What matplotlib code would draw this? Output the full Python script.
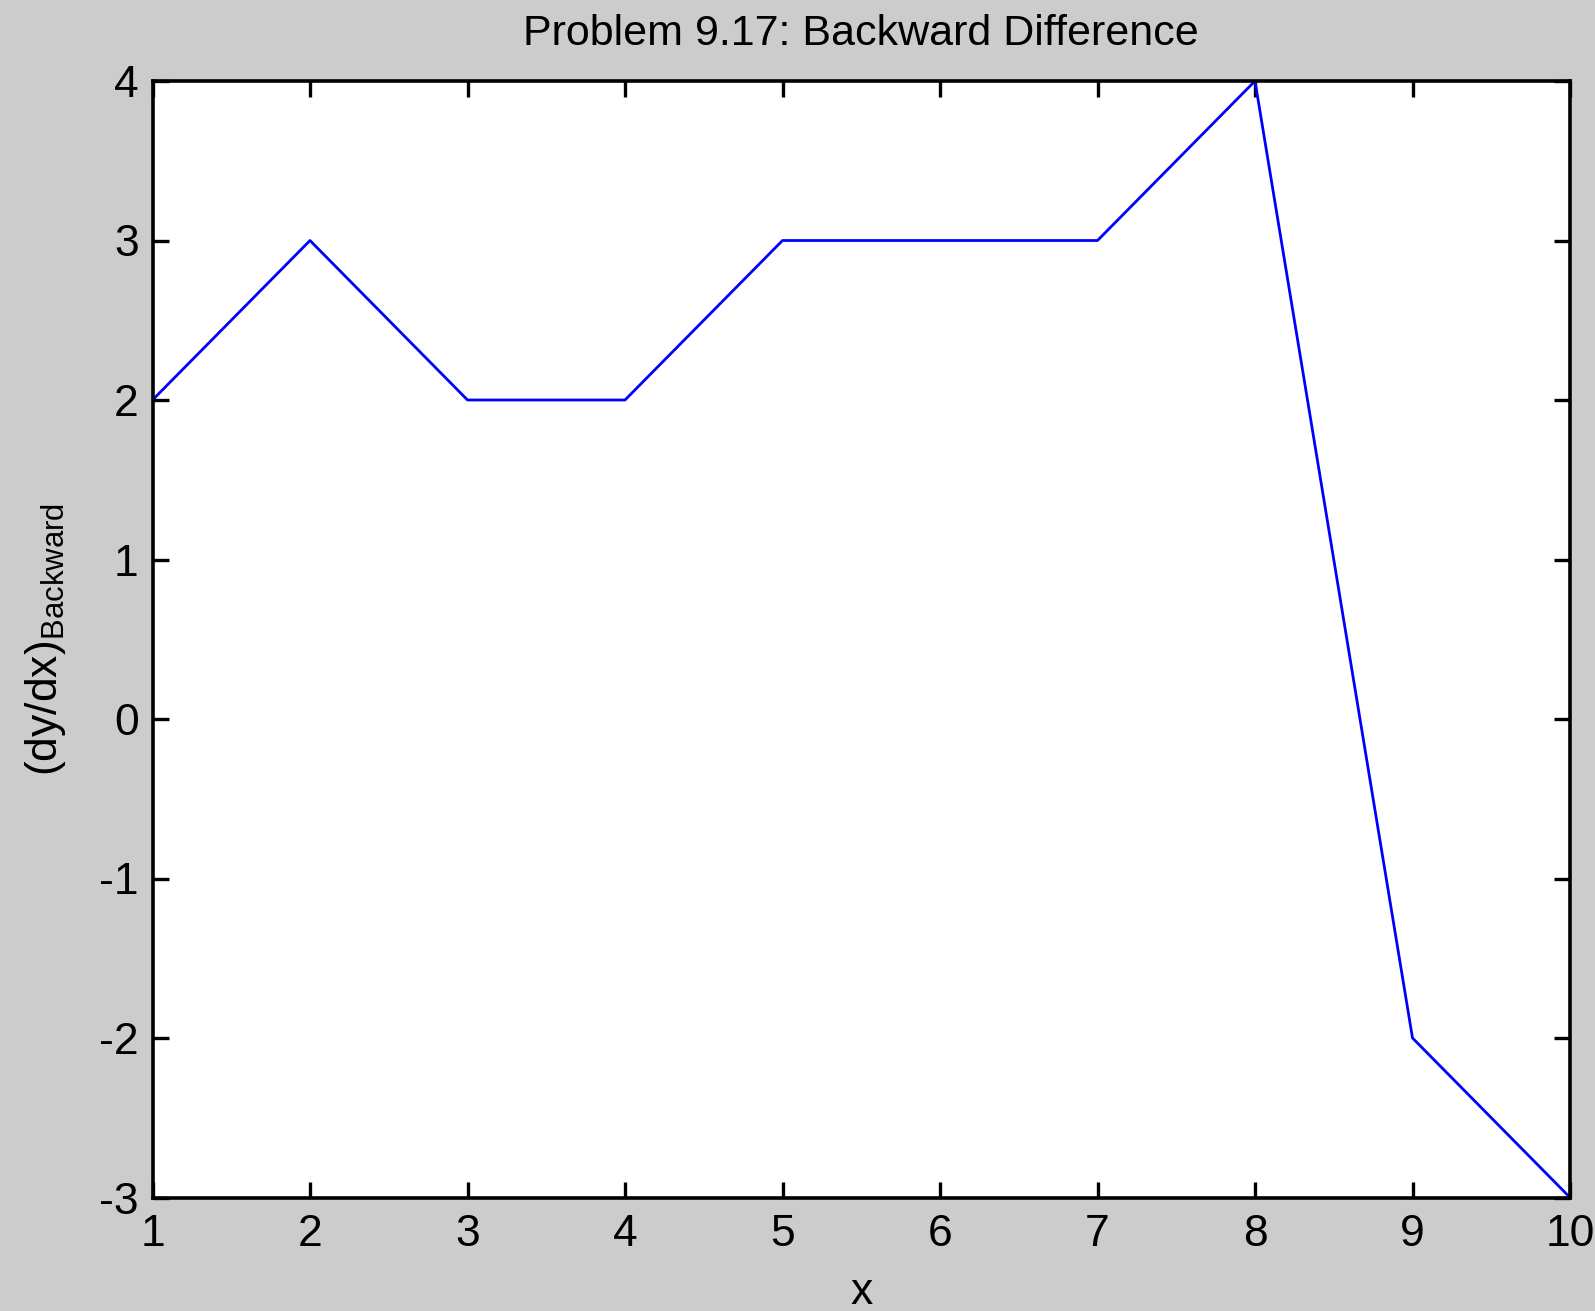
import matplotlib
matplotlib.use("Agg")
import matplotlib.pyplot as plt

# backward-difference derivative estimates
x = [1, 2, 3, 4, 5, 6, 7, 8, 9, 10]
dydx = [2, 3, 2, 2, 3, 3, 3, 4, -2, -3]
xticks = [1, 2, 3, 4, 5, 6, 7, 8, 9, 10]
yticks = [-3, -2, -1, 0, 1, 2, 3, 4]

plt.rcParams["font.family"] = ["Liberation Sans", "DejaVu Sans"]
plt.rcParams["mathtext.fontset"] = "custom"
plt.rcParams["mathtext.rm"] = "Liberation Sans"
plt.rcParams["axes.unicode_minus"] = False

W, H = 1595, 1311
fig = plt.figure(figsize=(W / 100, H / 100), dpi=100, facecolor="#cccccc")
left, right, top, bottom = 152.5, 1570, 81, 1197.5
ax = fig.add_axes([left / W, 1 - bottom / H, (right - left) / W, (bottom - top) / H])
ax.set_facecolor("white")

ax.plot(x, dydx, color="#0000ff", lw=2.0)

ax.set_xlim(1, 10)
ax.set_ylim(-3, 4)
ax.set_xticks(xticks)
ax.set_yticks(yticks)
ax.tick_params(direction="in", length=11.5, width=2.4, labelsize=32,
               top=True, right=True, pad=10)
ax.tick_params(axis="x", pad=12)
for s in ax.spines.values():
    s.set_linewidth(2.6)

ax.set_title("Problem 9.17: Backward Difference", fontsize=31, pad=26)
ax.set_xlabel("x", fontsize=32, labelpad=12)
ax.set_ylabel(r"$\mathregular{(dy/dx)_{Backward}}$", fontsize=32, labelpad=22)

fig.savefig("out.png", dpi=100, facecolor=fig.get_facecolor())
